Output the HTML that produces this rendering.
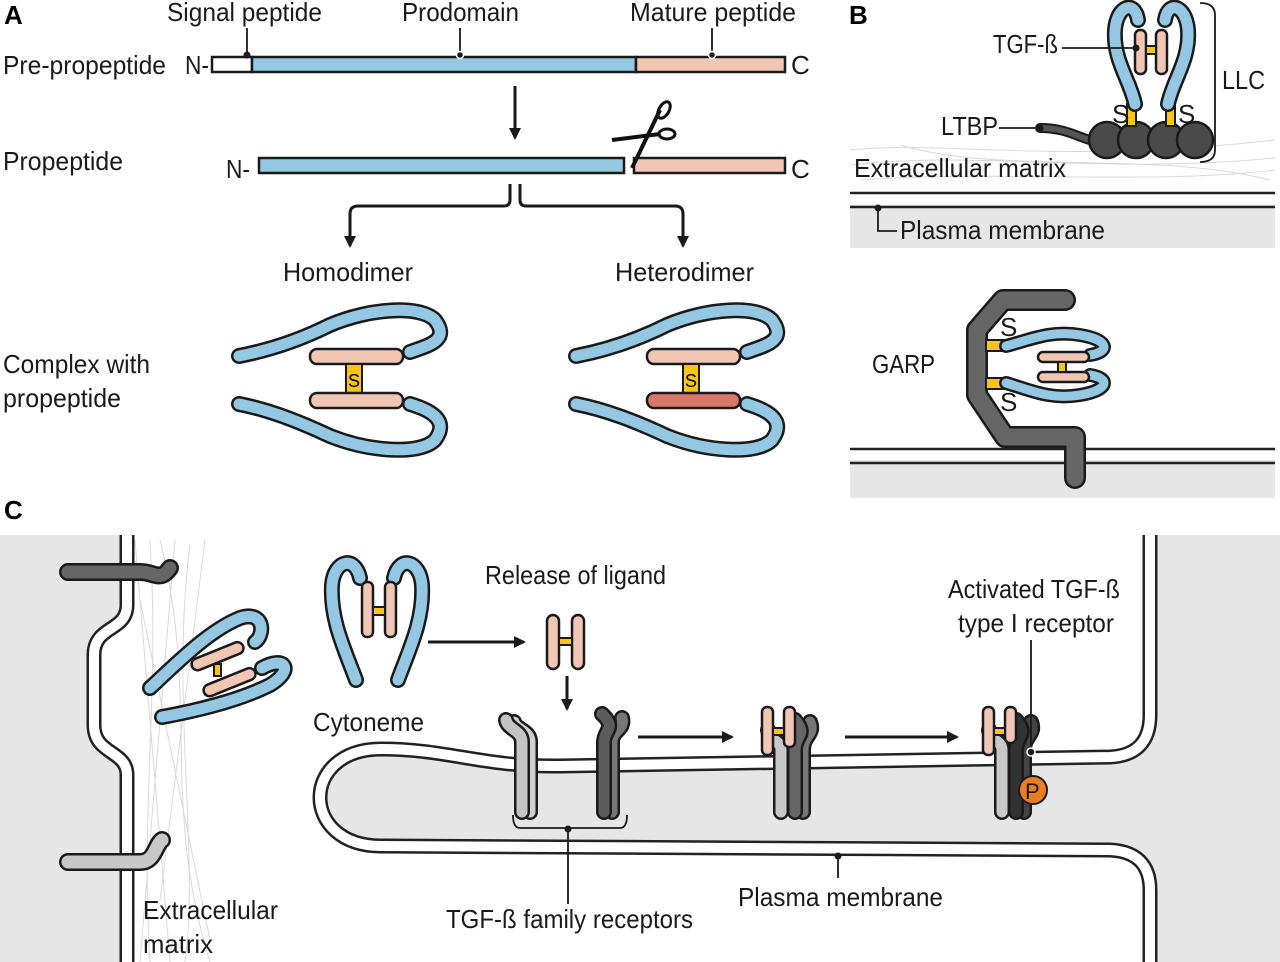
<!DOCTYPE html>
<html><head><meta charset="utf-8"><style>
html,body{margin:0;padding:0;background:#fff;}
svg{display:block;font-family:"Liberation Sans Narrow","Liberation Sans",sans-serif;}
.t{font-size:26px;fill:#1a1a1a;}
.bo{stroke:#1a1a1a;stroke-width:16;fill:none;stroke-linecap:round;stroke-linejoin:round}
.bl{stroke:#94c7e1;stroke-width:11;fill:none;stroke-linecap:round;stroke-linejoin:round}
.pk{fill:#f1c6b3;stroke:#1a1a1a;stroke-width:2.5}
.yl{fill:#f5c518;stroke:#1a1a1a;stroke-width:2}
.ln{stroke:#1a1a1a;stroke-width:1.8;fill:none}
.mo{stroke:#222;stroke-width:15;fill:none}
.mi{stroke:#fff;stroke-width:10;fill:none}
.fib{stroke:#d8d8d8;stroke-width:1;fill:none}
</style></head><body>
<svg width="1280" height="962" viewBox="0 0 1280 962" xmlns="http://www.w3.org/2000/svg">
<defs>
<marker id="ah" markerWidth="12" markerHeight="12" refX="10" refY="6" orient="auto" markerUnits="userSpaceOnUse"><path d="M0,0 L12,6 L0,12 Z" fill="#1a1a1a"/></marker>
</defs>
<rect x="0" y="0" width="1280" height="962" fill="#fff"/>

<!-- ===== Panel A ===== -->
<text x="4" y="24" style="font:bold 26px 'Liberation Sans',sans-serif">A</text>
<text class="t" x="167" y="21" textLength="155" lengthAdjust="spacingAndGlyphs">Signal peptide</text>
<text class="t" x="402" y="21" textLength="117" lengthAdjust="spacingAndGlyphs">Prodomain</text>
<text class="t" x="630" y="21" textLength="166" lengthAdjust="spacingAndGlyphs">Mature peptide</text>
<text class="t" x="3" y="74" textLength="163" lengthAdjust="spacingAndGlyphs">Pre-propeptide</text>
<text class="t" x="185" y="74" textLength="24" lengthAdjust="spacingAndGlyphs">N-</text>
<text class="t" x="791" y="74">C</text>
<rect x="212" y="57" width="40" height="15" fill="#fff" stroke="#1a1a1a" stroke-width="2.5"/>
<rect x="252" y="57" width="384" height="15" fill="#94c7e1" stroke="#1a1a1a" stroke-width="2.5"/>
<rect x="636" y="57" width="149" height="15" fill="#f1c6b3" stroke="#1a1a1a" stroke-width="2.5"/>
<line class="ln" x1="247" y1="28" x2="247" y2="55"/><circle cx="247" cy="55" r="3.5" fill="#1a1a1a"/>
<line class="ln" x1="460" y1="28" x2="460" y2="55"/><circle cx="460" cy="55" r="3.5" fill="#1a1a1a" stroke="#fff" stroke-width="1.5"/>
<line class="ln" x1="712" y1="28" x2="712" y2="55"/><circle cx="712" cy="55" r="3.5" fill="#1a1a1a" stroke="#fff" stroke-width="1.5"/>
<line x1="515" y1="86" x2="515" y2="138" stroke="#1a1a1a" stroke-width="3" marker-end="url(#ah)"/>

<text class="t" x="3" y="170" textLength="120" lengthAdjust="spacingAndGlyphs">Propeptide</text>
<text class="t" x="226" y="178" textLength="24" lengthAdjust="spacingAndGlyphs">N-</text>
<text class="t" x="791" y="178">C</text>
<rect x="259" y="158" width="365" height="15" fill="#94c7e1" stroke="#1a1a1a" stroke-width="2.5"/>
<rect x="634" y="158" width="151" height="15" fill="#f1c6b3" stroke="#1a1a1a" stroke-width="2.5"/>
<!-- scissors -->
<g stroke="#111" fill="none">
<path d="M632,168 L660,110" stroke-width="4"/>
<ellipse cx="664" cy="110" rx="5" ry="9" transform="rotate(30 664 110)" stroke-width="3"/>
<path d="M612,140 L660,134" stroke-width="4"/>
<ellipse cx="667" cy="134" rx="8" ry="5" stroke-width="3"/>
</g>

<path d="M510,184 L510,200 Q510,206 504,206 L358,206 Q350,206 350,214 L350,246" stroke="#1a1a1a" stroke-width="3" fill="none" marker-end="url(#ah)"/>
<path d="M520,184 L520,200 Q520,206 526,206 L675,206 Q683,206 683,214 L683,246" stroke="#1a1a1a" stroke-width="3" fill="none" marker-end="url(#ah)"/>
<text class="t" x="283" y="281" textLength="130" lengthAdjust="spacingAndGlyphs">Homodimer</text>
<text class="t" x="615" y="281" textLength="139" lengthAdjust="spacingAndGlyphs">Heterodimer</text>
<text class="t" x="3" y="373" textLength="147" lengthAdjust="spacingAndGlyphs">Complex with</text>
<text class="t" x="3" y="407" textLength="118" lengthAdjust="spacingAndGlyphs">propeptide</text>

<g>
<path class="bo" d="M239,356 C270,350 300,340 330,325 C370,308 420,305 435,320 C450,340 430,345 410,352"/>
<path class="bl" d="M239,356 C270,350 300,340 330,325 C370,308 420,305 435,320 C450,340 430,345 410,352"/>
<path class="bo" d="M239,404 C270,410 300,422 330,436 C370,452 420,455 435,440 C450,420 430,410 410,404"/>
<path class="bl" d="M239,404 C270,410 300,422 330,436 C370,452 420,455 435,440 C450,420 430,410 410,404"/>
<rect class="pk" x="310" y="349" width="93" height="15" rx="7"/>
<rect class="yl" x="346" y="364" width="16" height="29"/>
<text x="348" y="387" style="font-size:18px">S</text>
</g>
<g transform="translate(337,0)">
<path class="bo" d="M239,356 C270,350 300,340 330,325 C370,308 420,305 435,320 C450,340 430,345 410,352"/>
<path class="bl" d="M239,356 C270,350 300,340 330,325 C370,308 420,305 435,320 C450,340 430,345 410,352"/>
<path class="bo" d="M239,404 C270,410 300,422 330,436 C370,452 420,455 435,440 C450,420 430,410 410,404"/>
<path class="bl" d="M239,404 C270,410 300,422 330,436 C370,452 420,455 435,440 C450,420 430,410 410,404"/>
<rect class="pk" x="310" y="349" width="93" height="15" rx="7"/>
<rect class="yl" x="346" y="364" width="16" height="29"/>
<text x="348" y="387" style="font-size:18px">S</text>
</g>
<rect class="pk" x="310" y="393" width="93" height="15" rx="7"/>
<rect x="647" y="393" width="93" height="15" rx="7" fill="#d9776b" stroke="#1a1a1a" stroke-width="2.5"/>

<!-- ===== Panel B top ===== -->
<text x="849" y="24" style="font:bold 26px 'Liberation Sans',sans-serif">B</text>
<rect x="850" y="205" width="425" height="43" fill="#e6e6e6"/>
<path class="fib" d="M850,150 C950,140 1050,165 1275,140 M850,165 C980,150 1100,175 1275,158 M860,180 C1000,170 1150,185 1275,170 M900,145 C1000,175 1150,150 1270,180"/>
<line x1="850" y1="193" x2="1275" y2="193" stroke="#222" stroke-width="2.5"/>
<line x1="850" y1="207" x2="1275" y2="207" stroke="#222" stroke-width="2.5"/>
<path d="M878,208 L878,231 L897,231" class="ln"/><circle cx="878" cy="208" r="3.5" fill="#1a1a1a"/>
<text class="t" x="900" y="239" textLength="205" lengthAdjust="spacingAndGlyphs">Plasma membrane</text>
<text class="t" x="854" y="177" textLength="212" lengthAdjust="spacingAndGlyphs">Extracellular matrix</text>
<path d="M1040,128 C1070,128 1080,140 1100,142" stroke="#1a1a1a" stroke-width="10" fill="none" stroke-linecap="round"/>
<path d="M1040,128 C1070,128 1080,140 1100,142" stroke="#555" stroke-width="6" fill="none" stroke-linecap="round"/>
<circle cx="1107" cy="140" r="18" fill="#4a4a4a" stroke="#1a1a1a" stroke-width="2.5"/>
<circle cx="1136" cy="140" r="18" fill="#4a4a4a" stroke="#1a1a1a" stroke-width="2.5"/>
<circle cx="1166" cy="140" r="18" fill="#4a4a4a" stroke="#1a1a1a" stroke-width="2.5"/>
<circle cx="1195" cy="140" r="18" fill="#4a4a4a" stroke="#1a1a1a" stroke-width="2.5"/>
<rect class="yl" x="1127" y="104" width="9" height="22"/>
<rect class="yl" x="1166" y="104" width="9" height="22"/>
<path class="bo" d="M1135,104 C1130,80 1113,60 1115,30 C1117,5 1135,0 1138,20"/>
<path class="bl" d="M1135,104 C1130,80 1113,60 1115,30 C1117,5 1135,0 1138,20"/>
<path class="bo" d="M1168,104 C1173,80 1190,60 1188,30 C1186,5 1168,0 1165,20"/>
<path class="bl" d="M1168,104 C1173,80 1190,60 1188,30 C1186,5 1168,0 1165,20"/>
<rect class="pk" x="1135" y="30" width="11" height="44" rx="5"/>
<rect class="pk" x="1156" y="30" width="11" height="44" rx="5"/>
<rect class="yl" x="1146" y="46" width="10" height="8"/>
<text class="t" x="1112" y="123">S</text>
<text class="t" x="1178" y="123">S</text>
<text class="t" x="993" y="53" textLength="65" lengthAdjust="spacingAndGlyphs">TGF-ß</text>
<line class="ln" x1="1062" y1="48" x2="1136" y2="48"/><circle cx="1136" cy="48" r="3.5" fill="#1a1a1a"/>
<text class="t" x="941" y="135" textLength="57" lengthAdjust="spacingAndGlyphs">LTBP</text>
<line class="ln" x1="999" y1="128" x2="1040" y2="128"/><circle cx="1040" cy="128" r="3.5" fill="#1a1a1a"/>
<path d="M1200,3 Q1215,3 1215,15 L1215,150 Q1215,162 1200,162" class="ln"/>
<text class="t" x="1222" y="89" textLength="43" lengthAdjust="spacingAndGlyphs">LLC</text>

<!-- ===== Panel B bottom ===== -->
<rect x="850" y="460" width="425" height="38" fill="#e6e6e6"/>
<line x1="850" y1="449" x2="1275" y2="449" stroke="#222" stroke-width="2.5"/>
<line x1="850" y1="463" x2="1275" y2="463" stroke="#222" stroke-width="2.5"/>
<path d="M1065,300 L1003,300 L977,330 L977,395 L1005,437 L1075,437 L1075,478" stroke="#1a1a1a" stroke-width="22" fill="none" stroke-linecap="round" stroke-linejoin="round"/>
<path d="M1065,300 L1003,300 L977,330 L977,395 L1005,437 L1075,437 L1075,478" stroke="#666" stroke-width="17" fill="none" stroke-linecap="round" stroke-linejoin="round"/>
<rect class="yl" x="986" y="340" width="18" height="11"/>
<rect class="yl" x="986" y="378" width="18" height="11"/>
<text class="t" x="1000" y="336">S</text>
<text class="t" x="1000" y="411">S</text>
<path class="bo" d="M1006,346 C1030,340 1050,330 1080,335 C1110,340 1110,352 1090,355" style="stroke-width:14"/>
<path class="bl" d="M1006,346 C1030,340 1050,330 1080,335 C1110,340 1110,352 1090,355" style="stroke-width:9"/>
<path class="bo" d="M1006,383 C1030,390 1050,400 1080,395 C1110,390 1110,378 1090,375" style="stroke-width:14"/>
<path class="bl" d="M1006,383 C1030,390 1050,400 1080,395 C1110,390 1110,378 1090,375" style="stroke-width:9"/>
<rect class="pk" x="1038" y="352" width="51" height="10" rx="5"/>
<rect class="pk" x="1038" y="372" width="51" height="10" rx="5"/>
<rect class="yl" x="1058" y="362" width="8" height="10"/>
<text class="t" x="872" y="373" textLength="63" lengthAdjust="spacingAndGlyphs">GARP</text>

<!-- ===== Panel C ===== -->
<text x="4" y="519" style="font:bold 26px 'Liberation Sans',sans-serif">C</text>
<rect x="0" y="535" width="1280" height="427" fill="#ffffff"/>
<path d="M127,535 L127,605 C127,632 94,625 94,655 L94,725 C94,755 127,750 127,775 L127,962 L0,962 L0,535 Z" fill="#e6e6e6"/>
<path d="M1150,535 L1280,535 L1280,962 L1150,962 L1150,890 Q1150,852 1110,850 L380,846 C300,845 300,750 380,749 C450,749 480,767 560,766 L1110,757 Q1150,755 1150,715 Z" fill="#e6e6e6"/>
<path class="fib" d="M135,540 L170,962 M150,540 C160,700 140,800 150,962 M175,540 L140,962 M190,545 C170,700 200,850 185,962 M205,540 L160,900 M140,600 L210,940 M160,540 C200,700 160,800 210,962"/>
<path class="mo" d="M127,535 L127,605 C127,632 94,625 94,655 L94,725 C94,755 127,750 127,775 L127,962"/>
<path class="mi" d="M127,535 L127,605 C127,632 94,625 94,655 L94,725 C94,755 127,750 127,775 L127,962"/>
<path class="mo" d="M1150,535 L1150,715 Q1150,755 1110,757 L560,766 C480,767 450,749 380,749 C300,750 300,845 380,846 L1110,850 Q1150,852 1150,890 L1150,962"/>
<path class="mi" d="M1150,535 L1150,715 Q1150,755 1110,757 L560,766 C480,767 450,749 380,749 C300,750 300,845 380,846 L1110,850 Q1150,852 1150,890 L1150,962"/>

<!-- left receptors -->
<path d="M68,572 L140,572 C155,572 160,582 170,568" stroke="#1a1a1a" stroke-width="18" fill="none" stroke-linecap="round"/>
<path d="M68,572 L140,572 C155,572 160,582 170,568" stroke="#666" stroke-width="13" fill="none" stroke-linecap="round"/>
<path d="M68,862 L140,862 C155,862 155,845 162,840" stroke="#1a1a1a" stroke-width="18" fill="none" stroke-linecap="round"/>
<path d="M68,862 L140,862 C155,862 155,845 162,840" stroke="#c8c8c8" stroke-width="13" fill="none" stroke-linecap="round"/>

<!-- tilted complex -->
<path class="bo" d="M150,688 C180,660 210,630 240,618 C265,610 265,635 255,642"/>
<path class="bl" d="M150,688 C180,660 210,630 240,618 C265,610 265,635 255,642"/>
<path class="bo" d="M162,717 C200,710 240,700 270,685 C295,670 285,655 262,668"/>
<path class="bl" d="M162,717 C200,710 240,700 270,685 C295,670 285,655 262,668"/>
<rect class="pk" x="190" y="650" width="55" height="12" rx="6" transform="rotate(-22 218 656)"/>
<rect class="pk" x="202" y="676" width="55" height="12" rx="6" transform="rotate(-22 230 682)"/>
<rect class="yl" x="214" y="664" width="7" height="12"/>

<!-- cytoneme hairpin -->
<path class="bo" d="M356,680 C345,650 330,620 332,585 C334,560 355,555 360,578"/>
<path class="bl" d="M356,680 C345,650 330,620 332,585 C334,560 355,555 360,578"/>
<path class="bo" d="M398,680 C409,650 424,620 422,585 C420,560 399,555 394,578"/>
<path class="bl" d="M398,680 C409,650 424,620 422,585 C420,560 399,555 394,578"/>
<rect class="pk" x="362" y="582" width="11" height="55" rx="5"/>
<rect class="pk" x="385" y="582" width="11" height="55" rx="5"/>
<rect class="yl" x="373" y="607" width="12" height="8"/>
<text class="t" x="313" y="731" textLength="111" lengthAdjust="spacingAndGlyphs">Cytoneme</text>
<line x1="428" y1="642" x2="524" y2="642" stroke="#1a1a1a" stroke-width="3" marker-end="url(#ah)"/>
<text class="t" x="485" y="584" textLength="181" lengthAdjust="spacingAndGlyphs">Release of ligand</text>
<rect class="pk" x="547" y="615" width="12" height="54" rx="6"/>
<rect class="pk" x="572" y="615" width="12" height="54" rx="6"/>
<rect class="yl" x="559" y="638" width="13" height="7"/>
<line x1="567" y1="676" x2="567" y2="709" stroke="#1a1a1a" stroke-width="3" marker-end="url(#ah)"/>

<!-- receptor pair 1 -->
<g stroke-linecap="round" fill="none">
<path d="M530,812 L530,742 C530,730 516,730 514,722" stroke="#1a1a1a" stroke-width="16"/>
<path d="M530,812 L530,742 C530,730 516,730 514,722" stroke="#d0d0d0" stroke-width="11"/>
<path d="M522,812 L522,742 C522,730 508,730 506,720" stroke="#1a1a1a" stroke-width="16"/>
<path d="M522,812 L522,742 C522,730 508,730 506,720" stroke="#c4c4c4" stroke-width="11"/>
<path d="M612,812 L612,742 C612,730 625,730 622,718" stroke="#1a1a1a" stroke-width="16"/>
<path d="M612,812 L612,742 C612,730 625,730 622,718" stroke="#777" stroke-width="11"/>
<path d="M604,812 L604,742 C604,730 617,728 602,714" stroke="#1a1a1a" stroke-width="16"/>
<path d="M604,812 L604,742 C604,730 617,728 602,714" stroke="#5c5c5c" stroke-width="11"/>
</g>
<path d="M513,815 Q513,828 520,828 L620,828 Q627,828 627,815" class="ln" stroke="#555"/>
<circle cx="568" cy="829" r="3.5" fill="#1a1a1a"/>
<line class="ln" x1="568" y1="829" x2="568" y2="904"/>
<text class="t" x="446" y="928" textLength="247" lengthAdjust="spacingAndGlyphs">TGF-ß family receptors</text>
<line x1="638" y1="737" x2="732" y2="737" stroke="#1a1a1a" stroke-width="3" marker-end="url(#ah)"/>
<line x1="845" y1="737" x2="957" y2="737" stroke="#1a1a1a" stroke-width="3" marker-end="url(#ah)"/>

<!-- complex 2 -->
<g stroke-linecap="round" fill="none">
<path d="M781,812 L781,750 C781,740 770,742 768,730" stroke="#1a1a1a" stroke-width="16"/>
<path d="M781,812 L781,750 C781,740 770,742 768,730" stroke="#c8c8c8" stroke-width="11"/>
<path d="M803,812 L803,750 C803,735 815,735 810,722" stroke="#1a1a1a" stroke-width="16"/>
<path d="M803,812 L803,750 C803,735 815,735 810,722" stroke="#777" stroke-width="11"/>
<path d="M795,812 L795,750 C795,735 808,735 795,720" stroke="#1a1a1a" stroke-width="16"/>
<path d="M795,812 L795,750 C795,735 808,735 795,720" stroke="#666" stroke-width="11"/>
</g>
<rect class="pk" x="762" y="707" width="11" height="48" rx="5"/>
<rect class="pk" x="784" y="707" width="11" height="40" rx="5"/>
<rect class="yl" x="773" y="728" width="11" height="7"/>

<!-- complex 3 -->
<g stroke-linecap="round" fill="none">
<path d="M1002,812 L1002,750 C1002,740 991,742 989,730" stroke="#1a1a1a" stroke-width="16"/>
<path d="M1002,812 L1002,750 C1002,740 991,742 989,730" stroke="#c8c8c8" stroke-width="11"/>
<path d="M1024,812 L1024,750 C1024,735 1036,735 1031,722" stroke="#1a1a1a" stroke-width="16"/>
<path d="M1024,812 L1024,750 C1024,735 1036,735 1031,722" stroke="#444" stroke-width="11"/>
<path d="M1016,812 L1016,750 C1016,735 1029,735 1016,720" stroke="#1a1a1a" stroke-width="16"/>
<path d="M1016,812 L1016,750 C1016,735 1029,735 1016,720" stroke="#333" stroke-width="11"/>
</g>
<rect class="pk" x="983" y="707" width="11" height="48" rx="5"/>
<rect class="pk" x="1005" y="707" width="11" height="36" rx="5"/>
<rect class="yl" x="994" y="728" width="11" height="7"/>
<circle cx="1033" cy="790" r="14" fill="#ee7d22" stroke="#1a1a1a" stroke-width="2"/>
<text x="1025" y="799" style="font-size:22px" fill="#1a1a1a">P</text>
<text class="t" x="948" y="598" textLength="172" lengthAdjust="spacingAndGlyphs">Activated TGF-ß</text>
<text class="t" x="958" y="632" textLength="156" lengthAdjust="spacingAndGlyphs">type I receptor</text>
<line class="ln" x1="1031" y1="640" x2="1031" y2="752"/><circle cx="1031" cy="752" r="4" fill="#1a1a1a" stroke="#fff" stroke-width="1.5"/>
<circle cx="838" cy="856" r="3.5" fill="#1a1a1a"/>
<line class="ln" x1="838" y1="856" x2="838" y2="878"/>
<text class="t" x="738" y="906" textLength="205" lengthAdjust="spacingAndGlyphs">Plasma membrane</text>
<text class="t" x="143" y="919" textLength="135" lengthAdjust="spacingAndGlyphs">Extracellular</text>
<text class="t" x="143" y="953" textLength="70" lengthAdjust="spacingAndGlyphs">matrix</text>
</svg>
</body></html>
